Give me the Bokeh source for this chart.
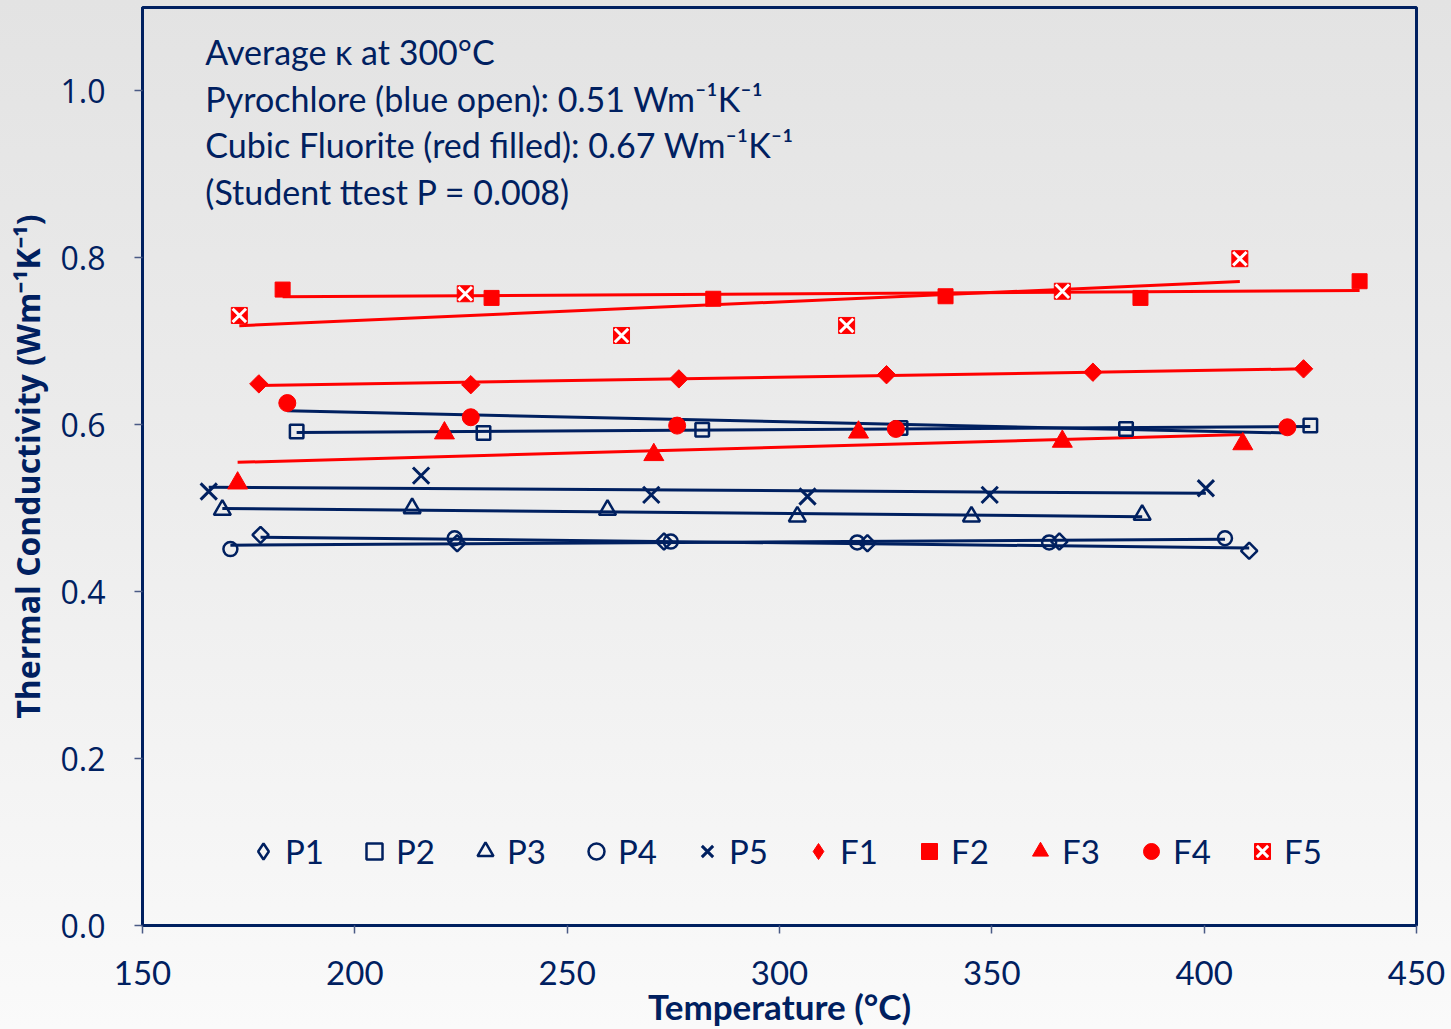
import numpy as np
from bokeh.plotting import figure
from bokeh.models import (Range1d, FixedTicker, PrintfTickFormatter, Legend, LegendItem, Label,
                          ColumnDataSource)
from bokeh.embed import file_html
from bokeh.resources import INLINE

# ---- data ----
P1_x = [177.8, 224.1, 272.8, 320.7, 365.9, 410.6]
P1_y = [0.468, 0.458, 0.460, 0.458, 0.460, 0.449]
P2_x = [186.3, 230.3, 281.8, 328.5, 381.6, 425.0]
P2_y = [0.592, 0.590, 0.594, 0.596, 0.595, 0.599]
P3_x = [168.8, 213.5, 259.5, 304.2, 345.2, 385.4]
P3_y = [0.498, 0.500, 0.498, 0.490, 0.490, 0.492]
P4_x = [170.7, 223.5, 274.4, 318.3, 363.5, 404.9]
P4_y = [0.451, 0.464, 0.460, 0.459, 0.459, 0.464]
P5_x = [165.6, 215.6, 269.8, 306.6, 349.5, 400.4]
P5_y = [0.520, 0.539, 0.516, 0.514, 0.516, 0.524]
F1_x = [177.4, 227.3, 276.3, 325.2, 373.8, 423.4]
F1_y = [0.649, 0.648, 0.655, 0.660, 0.663, 0.667]
F2_x = [183.0, 232.2, 284.4, 339.1, 385.0, 436.6]
F2_y = [0.762, 0.752, 0.751, 0.754, 0.752, 0.772]
F3_x = [172.4, 221.1, 270.4, 318.6, 366.6, 409.1]
F3_y = [0.530, 0.590, 0.564, 0.591, 0.580, 0.577]
F4_x = [184.1, 227.3, 275.9, 327.4, 419.6]
F4_y = [0.626, 0.609, 0.599, 0.595, 0.597]
F5_x = [172.8, 226.0, 262.8, 315.8, 366.6, 408.4]
F5_y = [0.731, 0.757, 0.707, 0.719, 0.760, 0.799]

series_names = ["P1", "P2", "P3", "P4", "P5", "F1", "F2", "F3", "F4", "F5"]
x_ticks = [150, 200, 250, 300, 350, 400, 450]
y_ticks = [0.0, 0.2, 0.4, 0.6, 0.8, 1.0]
annotation_lines = [
    "Average \u03ba at 300\u00b0C",
    "Pyrochlore (blue open): 0.51 Wm\u207b\u00b9K\u207b\u00b9",
    "Cubic Fluorite (red filled): 0.67 Wm\u207b\u00b9K\u207b\u00b9",
    "(Student ttest P = 0.008)",
]

NAVY = "#002060"
RED = "#FF0000"
TICKFONT = "Open Sans"
TXTFONT = "Lato"

p = figure(width=1451, height=1029, output_backend="svg", toolbar_location=None,
           x_range=Range1d(150, 450), y_range=Range1d(0, 1.1),
           min_border_left=142, min_border_right=35, min_border_top=7, min_border_bottom=104)
# a range that maps every value outside the frame: used only for legend-key renderers
p.extra_y_ranges = {"legend_key": Range1d(start=100, end=101)}
p.styles = {"background": "linear-gradient(to bottom, #e3e3e3 0%, #ececec 45%, #fafafa 100%)"}
p.background_fill_alpha = 0
p.border_fill_alpha = 0
p.outline_line_color = NAVY
p.outline_line_width = 3
p.grid.visible = False

p.xaxis.ticker = FixedTicker(ticks=x_ticks)
p.yaxis.ticker = FixedTicker(ticks=y_ticks)
p.yaxis.formatter = PrintfTickFormatter(format="%.1f")
for ax in (p.xaxis[0], p.yaxis[0]):
    ax.axis_line_color = NAVY
    ax.axis_line_width = 3
    ax.major_tick_line_color = "#4a5a85"
    ax.major_tick_line_width = 1.5
    ax.major_tick_out = 8
    ax.major_tick_in = 0
    ax.minor_tick_line_color = None
    ax.major_label_text_color = NAVY
    ax.axis_label_text_color = NAVY
    ax.axis_label_text_font_style = "bold"

p.xaxis.major_label_text_font = TXTFONT
p.xaxis.major_label_text_font_size = "33px"
p.xaxis.major_label_standoff = 27
p.xaxis.axis_label = "Temperature (\u00b0C)"
p.xaxis.axis_label_text_font = TXTFONT
p.xaxis.axis_label_text_font_size = "35px"
p.xaxis.axis_label_standoff = -3

p.yaxis.major_label_text_font = TICKFONT
p.yaxis.major_label_text_font_size = "32px"
p.yaxis.major_label_standoff = 29
p.yaxis.axis_label = "Thermal Conductivity (Wm\u207b\u00b9K\u207b\u00b9)"
p.yaxis.axis_label_text_font = TICKFONT
p.yaxis.axis_label_text_font_size = "32px"
p.yaxis.axis_label_standoff = 9

data = {
    "P1": (P1_x, P1_y), "P2": (P2_x, P2_y), "P3": (P3_x, P3_y), "P4": (P4_x, P4_y), "P5": (P5_x, P5_y),
    "F1": (F1_x, F1_y), "F2": (F2_x, F2_y), "F3": (F3_x, F3_y), "F4": (F4_x, F4_y), "F5": (F5_x, F5_y),
}
trend_color = {"P1": NAVY, "P2": NAVY, "P3": NAVY, "P4": NAVY, "P5": NAVY,
               "F1": RED, "F2": RED, "F3": RED, "F4": NAVY, "F5": RED}

# linear trend lines (least squares fit of each series)
for name in series_names:
    xs, ys = data[name]
    k, b = np.polyfit(xs, ys, 1)
    x0, x1 = min(xs), max(xs)
    p.line([x0, x1], [k * x0 + b, k * x1 + b], line_color=trend_color[name], line_width=3)

sources = {n: ColumnDataSource(dict(x=data[n][0], y=data[n][1])) for n in series_names}

renderers = {}
# P1: open diamonds (rotated squares on the plot, diamond glyph as the legend key)
p.scatter("x", "y", source=sources["P1"], marker="square", angle=np.pi / 4, size=11.5,
          fill_alpha=0, line_color=NAVY, line_width=2.5)
renderers["P1"] = [p.scatter("x", "y", source=sources["P1"], y_range_name="legend_key",
                             marker="diamond", size=16, fill_alpha=0, line_color=NAVY, line_width=2.5)]
renderers["P2"] = [p.scatter("x", "y", source=sources["P2"], marker="square", size=13.5,
                             fill_alpha=0, line_color=NAVY, line_width=2.5)]
renderers["P3"] = [p.scatter("x", "y", source=sources["P3"], marker="triangle", size=17,
                             fill_alpha=0, line_color=NAVY, line_width=2.5)]
renderers["P4"] = [p.scatter("x", "y", source=sources["P4"], marker="circle", size=14,
                             fill_alpha=0, line_color=NAVY, line_width=2.5)]
renderers["P5"] = [p.scatter("x", "y", source=sources["P5"], marker="x", size=23,
                             line_color=NAVY, line_width=3)]
p.scatter("x", "y", source=sources["F1"], marker="square", angle=np.pi / 4, size=13,
          fill_color=RED, line_color=RED, line_width=1)
renderers["F1"] = [p.scatter("x", "y", source=sources["F1"], y_range_name="legend_key",
                             marker="diamond", size=18, fill_color=RED, line_color=RED, line_width=1)]
renderers["F2"] = [p.scatter("x", "y", source=sources["F2"], marker="square", size=15,
                             fill_color=RED, line_color=RED, line_width=1)]
renderers["F3"] = [p.scatter("x", "y", source=sources["F3"], marker="triangle", size=20,
                             fill_color=RED, line_color=RED, line_width=1)]
renderers["F4"] = [p.scatter("x", "y", source=sources["F4"], marker="circle", size=17,
                             fill_color=RED, line_color=RED, line_width=1)]
renderers["F5"] = [p.scatter("x", "y", source=sources["F5"], marker="square", size=16,
                             fill_color=RED, line_color=RED, line_width=1),
                   p.scatter("x", "y", source=sources["F5"], marker="x", size=19,
                             line_color="white", line_width=3)]

legend = Legend(items=[LegendItem(label=n, renderers=renderers[n]) for n in series_names],
                orientation="horizontal", location=(101, 54),
                glyph_width=40, glyph_height=40, label_standoff=2, label_width=50, spacing=19,
                padding=0, margin=0,
                background_fill_alpha=0, border_line_alpha=0,
                label_text_font=TXTFONT, label_text_font_size="33px", label_text_color=NAVY)
p.add_layout(legend)

ann_y = [1.0467, 0.991, 0.9355, 0.880]
for txt, yy in zip(annotation_lines, ann_y):
    p.add_layout(Label(x=164.8, y=yy, text=txt, text_font=TXTFONT, text_font_size="34px",
                       text_color=NAVY, text_baseline="alphabetic", text_align="left"))

open("out.html", "w").write(file_html(p, INLINE))
